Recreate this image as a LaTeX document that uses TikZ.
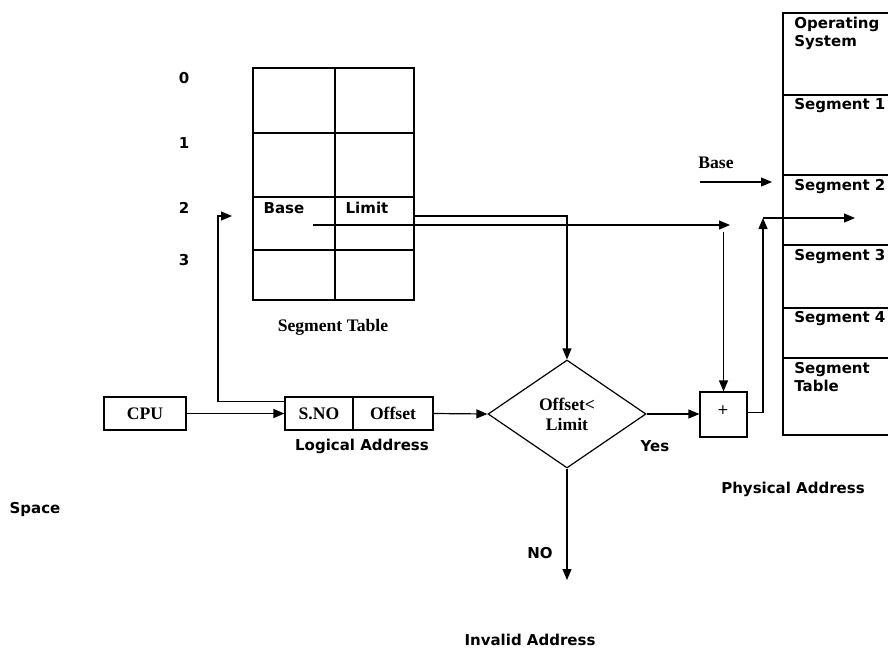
\documentclass[tikz,border=0pt]{standalone}
\usepackage{fontspec}
\setmainfont{Liberation Serif}
\newfontfamily\vfont{DejaVu Sans}
\usepackage{tikz}
\usetikzlibrary{
  shapes.geometric,
  arrows.meta,
  positioning,
  fit,
  calc
}
\tikzset{
  cell/.style={rectangle, draw, inner sep=0pt, line width=0.6pt},
  memslot/.style={rectangle, draw, inner sep=0pt, line width=0.6pt},
  sanslbl/.style={font=\vfont\bfseries\fontsize{7.5}{9}\selectfont, inner sep=1pt},
  seriflbl/.style={font=\bfseries\fontsize{8.8}{10}\selectfont, inner sep=1pt},
  memtext/.style={sanslbl, anchor=north west, align=left},
  arrow/.style={-{Triangle[length=5.5pt, width=4.5pt]}, line width=0.6pt},
}

\begin{document}
\begin{tikzpicture}[x=0.5pt, y=-0.5pt]
\useasboundingbox (0,0) rectangle (888,648);
\clip (0,0) rectangle (888,648);

% Segment table
\node[cell, fit={(253,68) (335,133)}] (c0a) {};
\node[cell, fit={(335,68) (414,133)}] (c0b) {};
\node[cell, fit={(253,133) (335,197)}] (c1a) {};
\node[cell, fit={(335,133) (414,197)}] (c1b) {};
\node[cell, fit={(253,197) (335,250)}] (c2a) {};
\node[cell, fit={(335,197) (414,250)}] (c2b) {};
\node[cell, fit={(253,250) (335,300)}] (c3a) {};
\node[cell, fit={(335,250) (414,300)}] (c3b) {};
\node[sanslbl] (base) at (284,208) {Base};
\node[sanslbl] (limit) at (367,208) {Limit};
\node[seriflbl] (segtable) at (333,327) {Segment Table};

% Row numbers
\node[sanslbl] (r0) at (184,78) {0};
\node[sanslbl] (r1) at (184,143) {1};
\node[sanslbl] (r2) at (184,208) {2};
\node[sanslbl] (r3) at (184,260) {3};

% Logical address
\node[cell, fit={(104,397) (186,430)}] (cpu) {};
\node[cell, fit={(285,397) (353,430)}] (sno) {};
\node[cell, fit={(353,397) (433,430)}] (off) {};
\node[seriflbl] (cputext) at (cpu.center) {CPU};
\node[seriflbl] (snotext) at (sno.center) {S.NO};
\node[seriflbl] (offtext) at (off.center) {Offset};
\node[sanslbl] (logaddr) at (362,446) {Logical Address};

% Check and adder
\node[diamond, draw, line width=0.6pt, inner sep=0pt, minimum width=79pt, minimum height=54pt,
  seriflbl, align=center] (dec) at (567,414) {Offset<\\Limit};
\node[cell, fit={(700,392) (747,437)}] (plus) {};
\node[font=\vfont\fontsize{7}{8}\selectfont] (plustext) at (723,410) {+};
\node[sanslbl] (yes) at (655,446) {Yes};
\node[sanslbl] (no) at (540,553) {NO};
\node[sanslbl] (invaddr) at (530,640) {Invalid Address};
\node[sanslbl] (physaddr) at (793,489) {Physical Address};
\node[sanslbl] (space) at (35,509) {Space};

% Physical memory
\node[memslot, fit={(783,13) (905,95)}] (os) {};
\node[memslot, fit={(783,95) (905,175)}] (seg1) {};
\node[memslot, fit={(783,175) (905,245)}] (seg2) {};
\node[memslot, fit={(783,245) (905,308)}] (seg3) {};
\node[memslot, fit={(783,308) (905,358)}] (seg4) {};
\node[memslot, fit={(783,358) (905,435)}] (segtbl) {};
\node[memtext] (ostext) at (792,15) {Operating\\System};
\node[memtext] (seg1text) at (792,96) {Segment 1};
\node[memtext] (seg2text) at (792,177) {Segment 2};
\node[memtext] (seg3text) at (792,247) {Segment 3};
\node[memtext] (seg4text) at (792,309) {Segment 4};
\node[memtext] (segtbltext) at (792,360) {Segment\\Table};

% Connector ends
\coordinate (selin) at (232,216);
\coordinate (limitfrom) at (414,216);
\coordinate (basefrom) at (313,225);
\coordinate (basetip) at (730,225);
\coordinate (basedown) at (725,232);
\coordinate (phys) at (763,218);
\coordinate (physout) at (855,218);
\coordinate (invalid) at (567,580);
\coordinate (basefrom2) at (700,182);
\coordinate (baseto2) at (772,182);
\node[seriflbl] (basetext) at (716,163) {Base};

% Arrows
\draw[arrow] (cpu.east) -- (sno.west);
\draw[arrow] (off.east) -- (dec.west);
\draw[arrow] ([yshift=-2.5pt]sno.north west) -| ($(selin)+(-14,0)$) -- (selin);
\draw[arrow] (limitfrom) -| (dec.north);
\draw[arrow] (basefrom) -- (basetip);
\draw[arrow] (plus.north |- basedown) -- (plus.north);
\draw[arrow] (dec.east) -- (dec.east -| plus.west);
\draw[arrow] ([yshift=1pt]plus.east) -| (phys);
\draw[arrow] (phys) -- (physout);
\draw[arrow] (dec.south) -- (invalid);
\draw[arrow] (basefrom2) -- (baseto2);

\end{tikzpicture}
\end{document}
